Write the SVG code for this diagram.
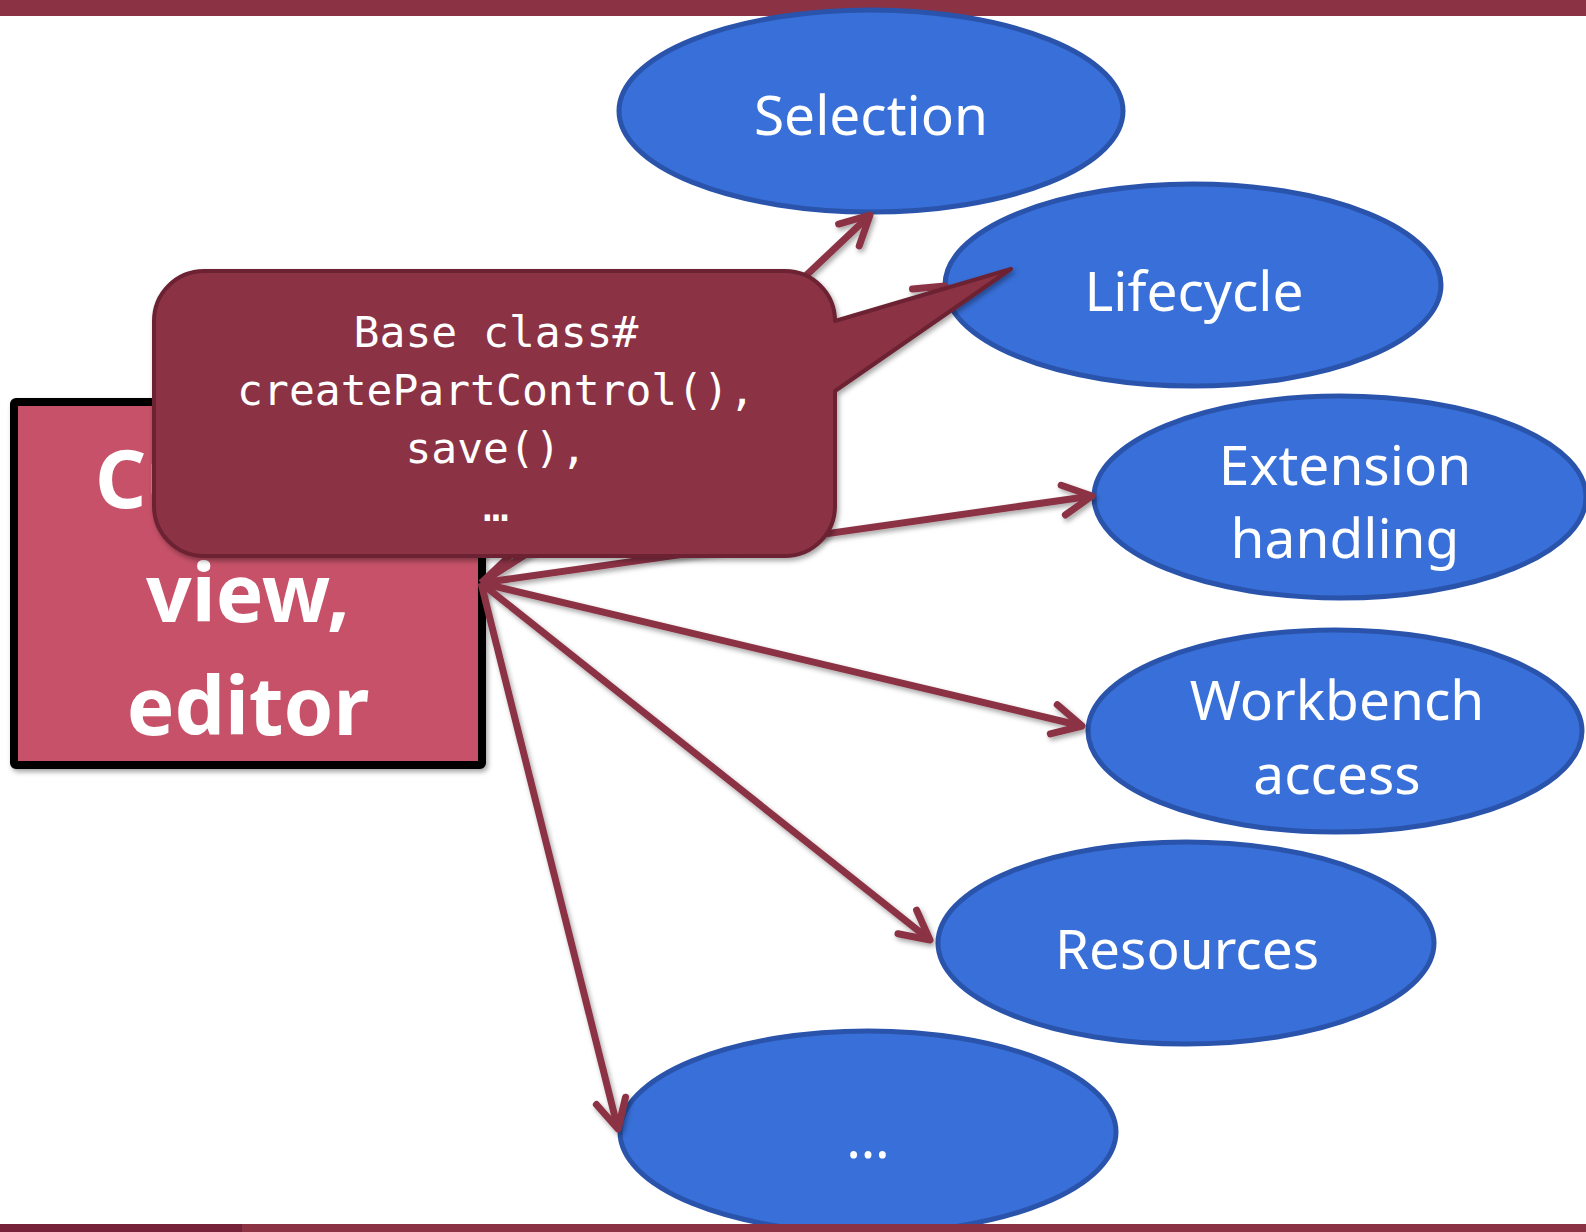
<svg xmlns="http://www.w3.org/2000/svg" width="1586" height="1232" viewBox="0 0 1586 1232">
  <style>
    .topic ellipse { fill: #386fd8; stroke: #2a54ab; stroke-width: 5; }
    .topic text { font-family: "Noto Sans", "Open Sans", sans-serif; font-size: 55px; fill: #ffffff; text-anchor: middle; }
    .part text { font-family: "Noto Sans", "Open Sans", sans-serif; font-weight: bold; font-size: 80px; fill: #ffffff; text-anchor: middle; }
    .note text { font-family: "DejaVu Sans Mono", "Liberation Mono", monospace; font-size: 43px; fill: #ffffff; text-anchor: middle; }
    .link { stroke: #8b3345; stroke-width: 7; fill: none; marker-end: url(#head); }
  </style>
  <defs>
    <filter id="shade" x="-10%" y="-10%" width="130%" height="130%">
      <feDropShadow dx="2" dy="3" stdDeviation="2.5" flood-color="#000000" flood-opacity="0.35"/>
    </filter>
    <marker id="head" markerUnits="userSpaceOnUse" viewBox="-40 -25 50 50" markerWidth="50" markerHeight="50" refX="0" refY="0" orient="auto" overflow="visible">
      <path d="M-29,-15 L0,0 L-29,15" fill="none" stroke="#8b3345" stroke-width="7" stroke-linecap="round" stroke-linejoin="round"/>
    </marker>
  </defs>

  <rect width="1586" height="1232" fill="#ffffff"/>

  <!-- top band -->
  <rect x="0" y="0" width="1586" height="16" fill="#8b3345"/>

  <!-- topics -->
  <g id="selection" class="topic">
    <ellipse cx="871" cy="111" rx="252" ry="101"/>
    <text x="871" y="135">Selection</text>
  </g>
  <g id="lifecycle" class="topic">
    <ellipse cx="1193" cy="285" rx="248" ry="101"/>
    <text x="1194" y="311">Lifecycle</text>
  </g>
  <g id="extension-handling" class="topic">
    <ellipse cx="1340" cy="497" rx="246" ry="101"/>
    <text x="1345" y="485">Extension</text>
    <text x="1345" y="558">handling</text>
  </g>
  <g id="workbench-access" class="topic">
    <ellipse cx="1335" cy="731" rx="247" ry="101"/>
    <text x="1337" y="720">Workbench</text>
    <text x="1337" y="794">access</text>
  </g>
  <g id="resources" class="topic">
    <ellipse cx="1186" cy="943" rx="248" ry="101"/>
    <text x="1187" y="969">Resources</text>
  </g>
  <g id="more" class="topic">
    <ellipse cx="868" cy="1132" rx="248" ry="101"/>
    <text x="868" y="1158">…</text>
  </g>

  <!-- part box -->
  <g id="custom-part" class="part">
    <rect x="14" y="402" width="468" height="363" rx="2" fill="#c65168" stroke="#000000" stroke-width="8" filter="url(#shade)"/>
    <text x="248" y="508">Custom</text>
    <text x="248" y="622">view,</text>
    <text x="248" y="735">editor</text>
  </g>

  <!-- connectors -->
  <g id="connectors" filter="url(#shade)">
    <line class="link" x1="481" y1="583" x2="870" y2="215"/>
    <line class="link" x1="481" y1="583" x2="945" y2="286"/>
    <line class="link" x1="481" y1="583" x2="1092" y2="496"/>
    <line class="link" x1="481" y1="583" x2="1082" y2="726"/>
    <line class="link" x1="481" y1="583" x2="930" y2="940"/>
    <line class="link" x1="481" y1="583" x2="618" y2="1129"/>
  </g>

  <!-- callout -->
  <g id="callout" class="note">
    <path d="M204,271 H785 A50,50 0 0 1 835,321 L1011,269 L835,391 V506 A50,50 0 0 1 785,556 H204 A50,50 0 0 1 154,506 V321 A50,50 0 0 1 204,271 Z" fill="#8b3345" stroke="#6c2232" stroke-width="4" stroke-linejoin="round" filter="url(#shade)"/>
    <text x="496" y="347">Base class#</text>
    <text x="496" y="405">createPartControl(),</text>
    <text x="496" y="463">save(),</text>
    <text x="496" y="521">…</text>
  </g>

  <!-- bottom band -->
  <rect x="0" y="1224" width="1586" height="8" fill="#8b3345"/>
  <rect x="0" y="1224" width="242" height="8" fill="#76233a"/>
</svg>
